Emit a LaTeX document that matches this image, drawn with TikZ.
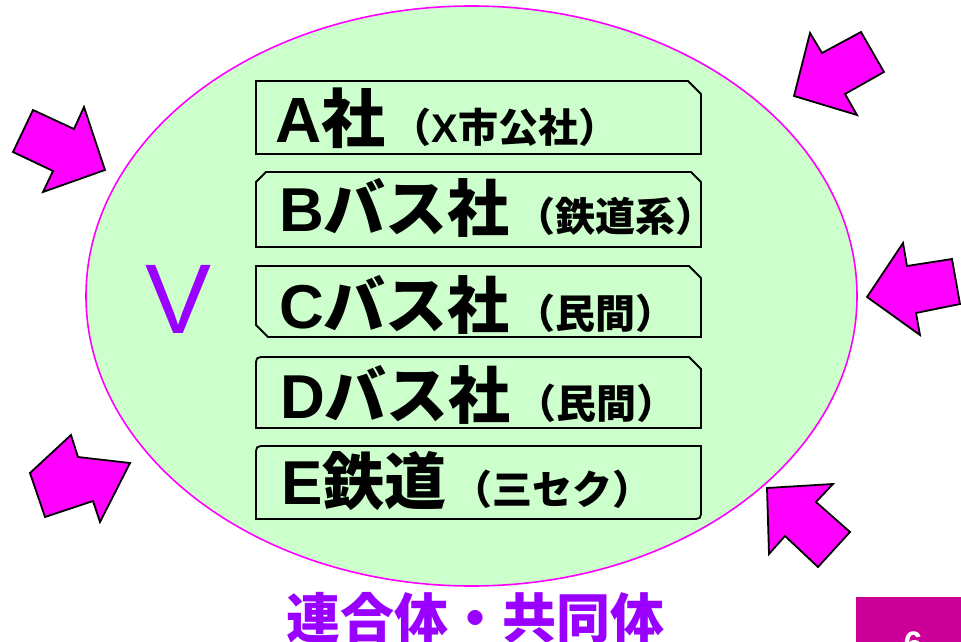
\documentclass[tikz,border=0pt]{standalone}
\usepackage{fontspec}
\setmainfont{Liberation Sans}
\newfontfamily\jp{Noto Sans CJK JP}
\newfontfamily\lat{Liberation Sans}
\definecolor{boxgreen}{HTML}{CCFFCC}
\definecolor{mag}{HTML}{FF00FF}
\definecolor{vpurple}{HTML}{9900FF}
\definecolor{pagebox}{HTML}{CC0099}
\tikzset{
  boxline/.style={draw=black, line width=1.8pt, fill=boxgreen, line join=miter},
  blockarrow/.style={draw=black, fill=mag, line width=1.8pt, line join=miter},
  label/.style={anchor=base west, inner sep=0pt, font=\bfseries},
}
\newcommand{\bigsz}{\fontsize{62}{62}\selectfont}
\newcommand{\smallsz}{\hspace{6pt}\fontsize{40}{40}\selectfont}
\begin{document}
\begin{tikzpicture}[x=1pt,y=-1pt]
\useasboundingbox (0,0) rectangle (961,642);
% ellipse
\draw[draw=mag, line width=1.6pt, fill=boxgreen] (471.5,296) ellipse [x radius=385.5pt, y radius=290pt];
% arrows
\draw[blockarrow] (33,110) -- (74,129) -- (84,107) -- (105,170) -- (43,192) -- (53,171) -- (13,152) -- cycle;
\draw[blockarrow] (810,33) -- (822,53) -- (861,32) -- (884,72) -- (845,94) -- (857,115) -- (794,96) -- cycle;
\draw[blockarrow] (903,243) -- (907,266) -- (952,259) -- (960,304) -- (916,313) -- (920,335) -- (867,297) -- cycle;
\draw[blockarrow] (767,488) -- (833,484) -- (816,502) -- (850,532) -- (818,567) -- (785,536) -- (769,554) -- cycle;
\draw[blockarrow] (71,435) -- (78,457) -- (130,463) -- (100,522) -- (93,501) -- (45,517) -- (30,473) -- cycle;
% boxes
\draw[boxline] (256,81) -- (688,81) -- (701,94) -- (701,154) -- (256,154) -- cycle;
\draw[boxline] (266,172) -- (691,172) -- (701,182) -- (701,247) -- (256,247) -- (256,182) -- cycle;
\draw[boxline] (256,266) -- (689,266) -- (701,278) -- (701,337) -- (268,337) -- (256,325) -- cycle;
\draw[boxline] (256,428) -- (256,367) .. controls (256,357) .. (266,357) -- (689,357) -- (701,369) -- (701,428) -- cycle;
\draw[boxline] (256,519) -- (256,456) .. controls (256,446) .. (266,446) -- (701,446) -- (701,509) .. controls (701,519) .. (691,519) -- cycle;
% labels
\node[label] (a) at (275,142) {\fontsize{64}{64}\selectfont\lat A\jp 社\smallsz （\lat X\jp 市公社）};
\node[label] (b) at (279,231) {\bigsz\lat B\jp バス社\smallsz （鉄道系）};
\node[label] (c) at (279,328) {\bigsz\lat C\jp バス社\smallsz （民間）};
\node[label] (d) at (280,418) {\bigsz\lat D\jp バス社\smallsz （民間）};
\node[label] (e) at (281,504) {\bigsz\lat E\jp 鉄道\smallsz （三セク）};
% V
\node[anchor=base west, inner sep=0pt, text=vpurple] (v) at (145,333) {\lat\fontsize{99}{99}\selectfont V};
% bottom title
\node[anchor=base, inner sep=0pt, text=vpurple] (title) at (475,638) {\jp\bfseries\fontsize{54}{54}\selectfont 連合体・共同体};
% page number box
\fill[pagebox] (856,597) rectangle (961,642);
\node[anchor=base, inner sep=0pt, text=white, font=\bfseries\fontsize{34}{34}\selectfont] (pg) at (913,655) {6};
\end{tikzpicture}
\end{document}
